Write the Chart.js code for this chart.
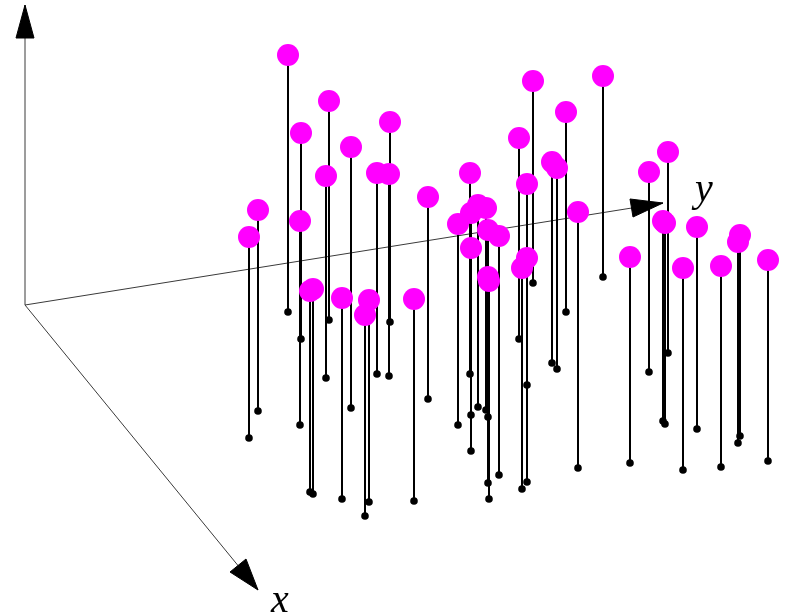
<!DOCTYPE html>
<html>
<head>
<meta charset="utf-8">
<script src="https://cdn.jsdelivr.net/npm/chart.js@4/dist/chart.umd.min.js"></script>
<style>
  html, body { margin: 0; padding: 0; background: #ffffff; }
  canvas { display: block; }
</style>
</head>
<body>
<canvas id="c" width="786" height="615"></canvas>
<script>
// Projected stem positions (horizontal position, top of stem, base of stem)
const stemPos  = [249, 258, 288, 301, 300, 310, 313, 329, 326, 351, 342, 390, 377, 389, 369, 365, 414, 428,
                  470, 458, 471, 471, 478, 486, 488, 499, 488, 489, 519, 527, 533, 522, 527, 552, 557, 566,
                  578, 603, 630, 649, 668, 663, 665, 697, 683, 721, 740, 738, 768];
const stemTop  = [237, 210, 55, 133, 221, 291, 289, 101, 176, 147, 298, 122, 173, 174, 300, 315, 299, 197,
                  173, 224, 213, 248, 205, 208, 230, 236, 277, 281, 138, 184, 81, 268, 258, 162, 168, 112,
                  212, 76, 257, 172, 152, 221, 223, 227, 268, 266, 235, 242, 260];
const stemBase = [438, 411, 312, 339, 425, 492, 494, 320, 378, 408, 499, 322, 374, 376, 502, 516, 501, 399,
                  374, 425, 415, 451, 407, 410, 417, 475, 483, 499, 339, 385, 283, 489, 482, 363, 369, 312,
                  468, 277, 463, 372, 353, 421, 424, 429, 470, 467, 436, 443, 461];

// Axis geometry (origin and arrow tips) and labels
const axisOrigin = {x: 25, y: 305};
const axisTips   = {x: {x: 258, y: 590}, y: {x: 663, y: 203}, z: {x: 25, y: 5}};
const arrowHeads = {
  x: [{x: 258, y: 590}, {x: 230, y: 572}, {x: 246, y: 559}],
  y: [{x: 663, y: 203}, {x: 630, y: 199}, {x: 633, y: 217}],
  z: [{x: 25, y: 5}, {x: 16, y: 38}, {x: 34, y: 38}]
};
const axisLabels = [{text: 'x', x: 271, y: 612}, {text: 'y', x: 695, y: 201}];

// Build datasets
const stemLine = [];
stemPos.forEach((p, i) => {
  stemLine.push({x: p, y: stemTop[i]});
  stemLine.push({x: p, y: stemBase[i]});
  stemLine.push({x: p, y: null});
});
const idx = stemPos.map((_, i) => i).sort((a, b) => stemBase[a] - stemBase[b]);
const tops = idx.map(i => ({x: stemPos[i], y: stemTop[i]}));
const bases = stemPos.map((p, i) => ({x: p, y: stemBase[i]}));

const axisLine = (tip) => [axisOrigin, tip];
const headData = (pts) => pts.concat([pts[0]]);

const datasets = [];
['x', 'y', 'z'].forEach(k => {
  datasets.push({type: 'scatter', data: axisLine(axisTips[k]), showLine: true, borderColor: '#3a3a3a',
    borderWidth: 1, pointRadius: 0, clip: false, order: 10});
  datasets.push({type: 'scatter', data: headData(arrowHeads[k]), showLine: true, borderColor: '#000',
    backgroundColor: '#000', borderWidth: 1, fill: 'shape', pointRadius: 0, clip: false, order: 9, tension: 0});
});
datasets.push({type: 'scatter', data: stemLine, showLine: true, spanGaps: false, borderColor: '#000',
  borderWidth: 2, pointRadius: 0, clip: false, order: 5});
datasets.push({type: 'scatter', data: bases, pointRadius: 3.8, pointBackgroundColor: '#000',
  pointBorderWidth: 0, clip: false, order: 4});
datasets.push({type: 'scatter', data: tops, pointRadius: 11, pointBackgroundColor: '#ff00ff',
  pointBorderWidth: 0, clip: false, order: 1});

const labelPlugin = {
  id: 'axisLabels',
  afterDatasetsDraw(chart) {
    const {ctx, scales} = chart;
    ctx.save();
    ctx.fillStyle = '#000';
    ctx.font = 'italic 40px "Liberation Serif", "DejaVu Serif", serif';
    ctx.textBaseline = 'alphabetic';
    ctx.textAlign = 'left';
    axisLabels.forEach(l => {
      ctx.fillText(l.text, scales.x.getPixelForValue(l.x), scales.y.getPixelForValue(l.y));
    });
    ctx.restore();
  }
};

new Chart(document.getElementById('c'), {
  type: 'scatter',
  data: {datasets},
  options: {
    responsive: false,
    animation: false,
    devicePixelRatio: 1,
    layout: {padding: 0, autoPadding: false},
    plugins: {legend: {display: false}, tooltip: {enabled: false}},
    scales: {
      x: {type: 'linear', min: 0, max: 786, display: false},
      y: {type: 'linear', min: 0, max: 615, reverse: true, display: false}
    }
  },
  plugins: [labelPlugin]
});
</script>
</body>
</html>
